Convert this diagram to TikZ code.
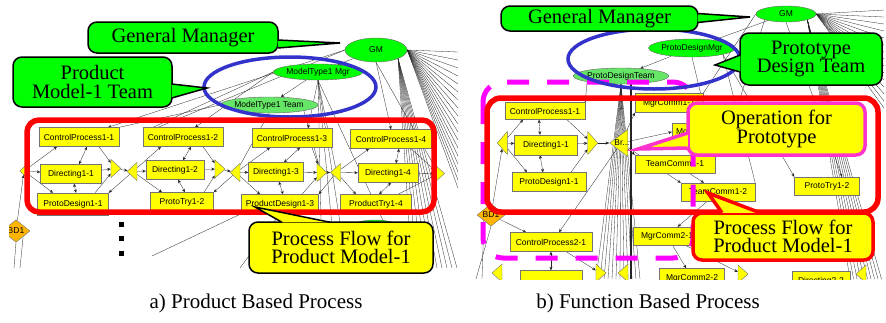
\documentclass[tikz,border=0pt]{standalone}
\usepackage{fontspec}
\setmainfont{Liberation Serif}
\setsansfont{Liberation Sans}
\newfontfamily\notefont{Liberation Serif}
\usetikzlibrary{shapes.geometric, arrows.meta, calc}

\definecolor{gmgreen}{RGB}{0,255,0}
\definecolor{teamgreen}{RGB}{102,230,102}
\definecolor{taskyellow}{RGB}{255,255,0}
\definecolor{bdorange}{RGB}{255,180,0}
\definecolor{markblue}{RGB}{51,51,204}
\definecolor{markred}{RGB}{255,0,0}
\definecolor{markmagenta}{RGB}{255,0,255}
\definecolor{oppink}{RGB}{255,51,204}

\pgfdeclarelayer{paper}
\pgfdeclarelayer{edges}
\pgfsetlayers{paper,edges,main}

\tikzset{
    tasklabel/.style={font=\sffamily\fontsize{8.5}{9}\selectfont},
    task/.style={tasklabel, draw=black!55, fill=taskyellow, inner sep=0pt, minimum height=19pt},
    mgr/.style={tasklabel, ellipse, draw=black!60, fill=gmgreen, inner sep=0pt},
    team/.style={mgr, fill=teamgreen},
    trir/.style={isosceles triangle, isosceles triangle stretches, draw=black!55, fill=taskyellow, inner sep=0pt, minimum width=18pt, minimum height=10pt},
    tril/.style={trir, shape border rotate=180},
    bd/.style={tasklabel, diamond, draw=black!55, fill=bdorange, inner sep=0pt},
    link/.style={black!85, line width=0.3pt},
    arr/.style={link, -{Stealth[length=3.5pt, width=3pt]}},
    darr/.style={link, {Stealth[length=3.5pt, width=3pt]}-{Stealth[length=3.5pt, width=3pt]}},
    calloutbox/.style={draw=black, line width=1.5pt, fill=gmgreen, rounded corners=9pt, align=center, inner sep=0pt, font=\notefont\fontsize{20.5}{18.5}\selectfont},
    callouttail/.style={draw=black, line width=1.5pt, fill=gmgreen},
    captext/.style={font=\notefont\fontsize{21}{24}\selectfont}
}

\begin{document}
\begin{tikzpicture}[x=1pt, y=-1pt]
    \begin{pgfonlayer}{paper}
        \fill[white] (0,0) rectangle (886,322);
    \end{pgfonlayer}
    \useasboundingbox (0,0) rectangle (886,322);

    % a) Product based process: nodes
    \begin{scope}
        \clip (9,0) rectangle (458,268);
        \node[mgr, minimum width=62pt, minimum height=24pt] (gmA) at (376,50) {GM};
        \node[mgr, minimum width=82pt, minimum height=16pt] (mgrA) at (318,72) {ModelType1 Mgr};
        \node[team, minimum width=82pt, minimum height=16pt] (teamA) at (269,105) {ModelType1 Team};

        \node[task, minimum width=80pt] (cpA1) at (79,137) {ControlProcess1-1};
        \node[task, minimum width=80pt] (cpA2) at (183,137) {ControlProcess1-2};
        \node[task, minimum width=80pt] (cpA3) at (292,138) {ControlProcess1-3};
        \node[task, minimum width=81pt] (cpA4) at (391,139) {ControlProcess1-4};
        \node[task, minimum width=61pt] (drA1) at (71,174) {Directing1-1};
        \node[task, minimum width=58pt] (drA2) at (175,170) {Directing1-2};
        \node[task, minimum width=55pt] (drA3) at (276,172) {Directing1-3};
        \node[task, minimum width=60pt] (drA4) at (388,173) {Directing1-4};
        \node[task, minimum width=71pt, minimum height=22pt] (wkA1) at (73,204) {ProtoDesign1-1};
        \node[task, minimum width=63pt] (wkA2) at (182,202) {ProtoTry1-2};
        \node[task, minimum width=77pt] (wkA3) at (280,204) {ProductDesign1-3};
        \node[task, minimum width=71pt] (wkA4) at (376,204) {ProductTry1-4};

        \node[tril, minimum width=14pt, minimum height=7pt] (inA1) at (24,171) {};
        \node[trir] (outA1) at (115,168.5) {};
        \node[tril] (inA2) at (133,171.5) {};
        \node[trir] (outA2) at (219,169) {};
        \node[tril] (inA3) at (236,172.5) {};
        \node[trir] (outA3) at (321,172.5) {};
        \node[tril] (inA4) at (336.5,172.5) {};
        \node[trir] (outA4) at (438.5,173.5) {};

        \node[bd, minimum width=28pt, minimum height=22pt] (bdA) at (16,231) {BD1};
        \node[mgr, minimum width=50pt, minimum height=16pt] (hidA) at (375,228) {};
        \foreach \y in {224,238,253}
            \fill (118.5,\y-2.5) rectangle ++(5,5);
    \end{scope}

    % a) edges
    \begin{pgfonlayer}{edges}
    \begin{scope}
        \clip (9,0) rectangle (458,268);
        \draw[arr] (gmA) -- (mgrA);
        \draw[arr] (mgrA) -- (teamA);
        \draw[arr] (gmA.west) -- ([xshift=29pt]cpA1.north);
        \draw[arr] (mgrA.west) -- ([xshift=12pt]cpA2.north);
        \draw[arr] (mgrA.south) -- ([xshift=16pt]cpA3.north);
        \draw[arr] (gmA.south) -- (cpA4.north);
        \draw[link] (gmA.west) -- ([xshift=-25pt]cpA2.north);
        \draw[link] (teamA.west) -- (cpA1.north east);
        \draw[link] (mgrA.west) -- ([xshift=-30pt]cpA2.north);
        \draw[link] (teamA.south) -- (inA3);
        \draw[link] (teamA.south east) -- (outA3);
        \draw[link] (mgrA.south) -- (inA4);
        \draw[link] (gmA.south) -- (outA4);
        \foreach \k in {0,...,17} {
            \coordinate (fanA\k) at (458, 52+\k*8);
            \draw[link] (gmA.east) -- (fanA\k);
        }
        \foreach \k in {0,...,9} {
            \coordinate (dropA\k) at (412+\k*5, 268);
            \draw[link] (gmA.south east) -- (dropA\k);
        }
        \foreach \n/\x in {1/322, 2/336, 3/347, 4/405} {
            \coordinate (longA\n) at (\x, 268);
            \draw[link] (mgrA.south) -- (longA\n);
        }
        % groups
        \foreach \i in {1,...,4} {
            \draw[arr] (inA\i) -- ([xshift=-22pt]cpA\i.south);
            \draw[arr] (inA\i) -- (drA\i);
            \draw[arr] (inA\i) -- ([xshift=-20pt]wkA\i.north);
            \draw[darr] ([xshift=8pt]cpA\i.south) -- ([xshift=8pt]drA\i.north);
            \draw[darr] ([xshift=3pt]drA\i.south) -- ([xshift=3pt]wkA\i.north);
            \draw[arr] ([xshift=20pt]cpA\i.south) -- (outA\i);
            \draw[arr] (drA\i) -- (outA\i);
            \draw[arr] ([xshift=22pt]wkA\i.north) -- (outA\i);
        }
        \foreach \i/\j in {1/2,2/3,3/4} {
            \draw[arr] (outA\i) -- (inA\j);
            \draw[arr] (inA\j) -- (wkA\i.north east);
        }
        \draw[arr] (bdA) -- (inA1);
        \coordinate (lowA1) at (14,268);
        \coordinate (lowA2) at (20,268);
        \coordinate (lowA3) at (152,256);
        \coordinate (lowA4) at (240,268);
        \draw[link] (bdA.south) -- (lowA1);
        \draw[link] (bdA.south east) -- (lowA2);
        \draw[link] (wkA3.south west) -- (lowA3);
        \draw[link] (wkA3.south) -- (lowA4);
    \end{scope}
    \end{pgfonlayer}

    % b) Function based process: nodes
    \begin{scope}
        \clip (468,0) rectangle (884,279);
        \node[mgr, minimum width=60pt, minimum height=16pt] (gmB) at (786,14) {GM};
        \node[mgr, minimum width=72pt, minimum height=18pt] (mgrB) at (692,48) {ProtoDesignMgr};
        \node[team, minimum width=82pt, minimum height=16pt] (teamB) at (621,76) {ProtoDesignTeam};

        \node[task, minimum width=80pt, minimum height=17pt] (cpB1) at (545,111) {ControlProcess1-1};
        \node[task, minimum width=63pt, minimum height=20pt] (drB1) at (546,145) {Directing1-1};
        \node[task, minimum width=74pt] (wkB1) at (549,182) {ProtoDesign1-1};
        \node[tril, minimum width=23pt] (inB1) at (503,143) {};
        \node[trir, minimum width=23pt] (outB1) at (592,143) {};
        \node[tril, minimum width=27pt, minimum height=18pt] (brB) at (621,143) {};
        \node[tasklabel] (brBtext) at (622,143) {Br...};
        \node[task, minimum width=68pt] (mcB11) at (669,103) {MgrComm1-1};
        \node[task, minimum width=60pt, minimum height=17pt] (mcB12) at (702,132) {MgrComm1-2};
        \node[task, minimum width=80pt, minimum height=18pt] (tcB11) at (675,164) {TeamComm1-1};
        \node[task, minimum width=74pt, minimum height=18pt] (tcB12) at (718,192) {TeamComm1-2};
        \node[task, minimum width=65pt, minimum height=18pt] (ptB2) at (827,186) {ProtoTry1-2};
        \node[task, minimum width=82pt] (cpB2) at (551,242) {ControlProcess2-1};
        \node[task, minimum width=68pt, minimum height=18pt] (mcB21) at (667,236) {MgrComm2-1};
        \node[bd, minimum width=28pt, minimum height=17pt] (bdB) at (491,215) {BD1};
        % bottom row, cut off
        \node[task, minimum width=62pt] (drB2) at (551,280) {};
        \node[task, minimum width=65pt] (mcB22) at (692,278) {MgrComm2-2};
        \node[task, minimum width=58pt] (drB22) at (821,281) {Directing2-2};
        \node[tril] (inB2) at (498,273) {};
        \node[trir] (outB2) at (600,273) {};
        \node[tril] (brB2) at (624,273) {};
        \node[trir] (outB3) at (742,274) {};
        \node[tril] (inB4) at (862,274) {};
    \end{scope}

    % b) edges
    \begin{pgfonlayer}{edges}
    \begin{scope}
        \clip (468,0) rectangle (884,279);
        \draw[arr] (gmB) -- (mgrB);
        \draw[arr] (mgrB) -- (teamB);
        \foreach \k in {0,...,14} {
            \coordinate (fanB\k) at (884, 10+\k*7);
            \draw[link] (gmB.east) -- (fanB\k);
        }
        \foreach \k in {0,...,9} {
            \coordinate (dropB\k) at (850+\k*3.5, 279);
            \draw[link] (gmB.south east) -- (dropB\k);
        }
        % bundle below the prototype design team
        \foreach \k in {0,...,11} {
            \coordinate (bunB\k) at (596+\k*4, 279);
            \draw[link] (teamB.south) -- (bunB\k);
        }
        \coordinate (bunBmain) at (631,279);
        \draw[link, line width=1.5pt] ([xshift=10pt]teamB.south) -- (bunBmain);
        \draw[arr] (teamB.south west) -- (cpB1.north east);
        \draw[link] (gmB.west) -- (mcB11.north east);
        \draw[link] (gmB.south west) -- (mcB12.north east);
        \draw[link] (mgrB.south) -- (tcB11.north east);
        \draw[link] (mgrB.south east) -- (tcB12.north east);
        \draw[arr] (mgrB.south east) -- (ptB2.north west);
        \draw[arr] (gmB.south) -- ([xshift=15pt]ptB2.north);
        % group
        \draw[arr] (inB1) -- ([xshift=-22pt]cpB1.south);
        \draw[arr] (inB1) -- (drB1);
        \draw[arr] (inB1) -- ([xshift=-22pt]wkB1.north);
        \draw[darr] ([xshift=-6pt]cpB1.south) -- ([xshift=-6pt]drB1.north);
        \draw[darr] ([xshift=-6pt]drB1.south) -- ([xshift=-6pt]wkB1.north);
        \draw[arr] ([xshift=22pt]cpB1.south) -- (outB1);
        \draw[arr] (drB1) -- (outB1);
        \draw[arr] ([xshift=22pt]wkB1.north) -- (outB1);
        \draw[arr] (outB1) -- (brB);
        \draw[arr] (brB) -- (mcB11.south west);
        \draw[arr] (brB) -- (mcB12.west);
        \draw[arr] (brB) -- (tcB11.north west);
        \draw[arr] (brB) -- (tcB12.north west);
        \draw[arr] (brB) -- ([xshift=8pt]cpB2.north);
        \draw[arr] (bdB) -- (inB1);
        \draw[arr] (bdB) -- ([xshift=-25pt]cpB2.north);
        \draw[darr] (cpB2) -- (drB2);
        \draw[arr] (tcB11) -- (tcB12);
        \draw[arr] (tcB12) -- (mcB21);
        \draw[arr] (mcB21) -- (mcB22);
        \draw[arr] (cpB2) -- (outB2);
        \draw[arr] (mcB21) -- (outB3);
        \coordinate (lowB1) at (476,279);
        \coordinate (lowB2) at (482,279);
        \draw[link] (bdB.south) -- (lowB1);
        \draw[link] (bdB.south west) -- (lowB2);
    \end{scope}
    \end{pgfonlayer}

    % highlights
    \draw[markblue, line width=3.5pt] (290,87) ellipse (86 and 30);
    \draw[markred, line width=5.5pt, rounded corners=12pt] (27,120) rectangle (434,212);
    \draw[markmagenta, line width=5pt, dash pattern=on 22pt off 18pt, rounded corners=20pt] (483,82) rectangle (693,258);
    \draw[markblue, line width=3.5pt] (654,59) ellipse (86 and 30);
    \draw[markred, line width=5.5pt, rounded corners=14pt] (487,98) rectangle (878,212);

    % callouts of a)
    \node[calloutbox, minimum width=190pt, minimum height=31pt] (gmcA) at (183,37.5) {General Manager};
    \coordinate (gmtipA) at (340,43);
    \filldraw[callouttail] ($(gmcA.east)+(-1,2.5)$) -- (gmtipA) -- ($(gmcA.east)+(-1,10.5)$);
    \node[calloutbox, minimum width=159pt, minimum height=50pt] (tmcA) at (92.5,82) {Product\\Model-1 Team};
    \coordinate (tmtipA) at (207,88);
    \filldraw[callouttail] ($(tmcA.east)+(-1,2)$) -- (tmtipA) -- ($(tmcA.east)+(-1,16)$);
    \node[calloutbox, fill=taskyellow, minimum width=184pt, minimum height=51pt] (pfA) at (341,247.5) {Process Flow for\\Product Model-1};
    \coordinate (pftipA) at (255,207);
    \filldraw[callouttail, fill=taskyellow] ($(pfA.north)+(-59,1)$) -- (pftipA) -- ($(pfA.north)+(-11,1)$);

    % callouts of b)
    \node[calloutbox, minimum width=197pt, minimum height=25pt] (gmcB) at (599.5,18.5) {General Manager};
    \coordinate (gmtipB) at (750,17);
    \filldraw[callouttail] ($(gmcB.east)+(-1,-5)$) -- (gmtipB) -- ($(gmcB.east)+(-1,4)$);
    \node[calloutbox, minimum width=142pt, minimum height=52pt] (tmcB) at (811,59) {Prototype\\Design Team};
    \coordinate (tmtipB) at (715,65);
    \filldraw[callouttail] ($(tmcB.west)+(1,-4)$) -- (tmtipB) -- ($(tmcB.west)+(1,13)$);
    \node[calloutbox, draw=oppink, line width=3.5pt, fill=taskyellow, minimum width=177pt, minimum height=52pt] (opB) at (776.5,129) {Operation for\\Prototype};
    \coordinate (optipB) at (638,149);
    \filldraw[callouttail, draw=oppink, line width=3.5pt, fill=taskyellow] ($(opB.west)+(1.5,4)$) -- (optipB) -- ($(opB.west)+(1.5,19)$);
    \node[calloutbox, draw=markred, line width=3.5pt, fill=taskyellow, minimum width=180pt, minimum height=47pt] (pfB) at (783,236.5) {Process Flow for\\Product Model-1};
    \coordinate (pftipB) at (708,193);
    \filldraw[callouttail, draw=markred, line width=3.5pt, fill=taskyellow] ($(pfB.north)+(-61,1.5)$) -- (pftipB) -- ($(pfB.north)+(-23,1.5)$);

    % captions
    \node[captext] (capA) at (256,303) {a) Product Based Process};
    \node[captext] (capB) at (648,303) {b) Function Based Process};
\end{tikzpicture}
\end{document}
